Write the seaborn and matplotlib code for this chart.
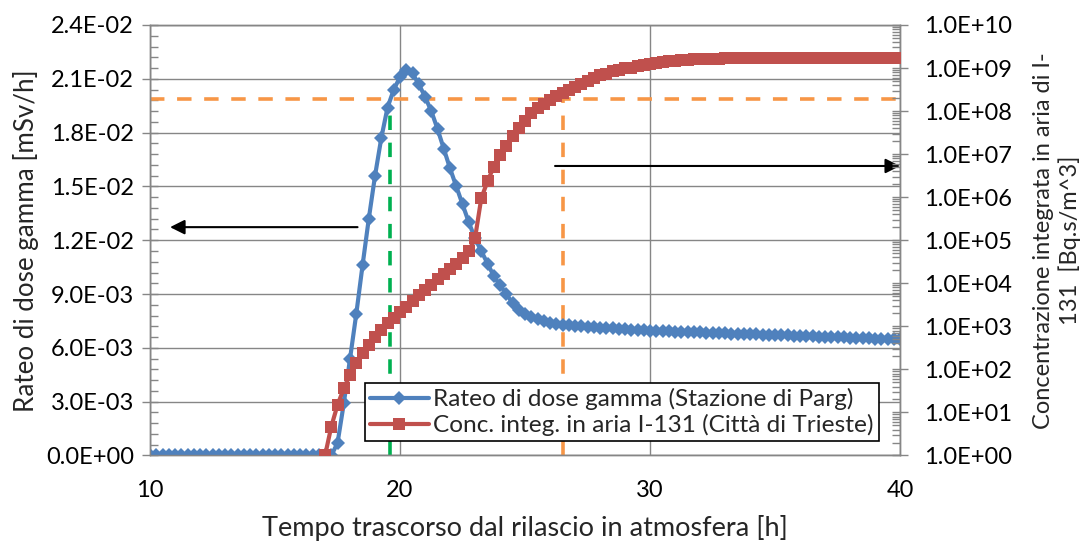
import numpy as np
import pandas as pd
import matplotlib
matplotlib.use('Agg')
import matplotlib.pyplot as plt
import matplotlib.ticker as mticker
import seaborn as sns

# tempo [h], passo 15 minuti
ore = np.arange(40, 161) / 4

# rateo di dose gamma, Stazione di Parg [mSv/h]
dose = [0.0] * 30 + [
    0.0007, 0.0029, 0.0054, 0.0079, 0.0106, 0.0132, 0.0156, 0.0177, 0.0194, 0.0204,
    0.0211, 0.0215, 0.0213, 0.0207, 0.0200, 0.0192, 0.0182, 0.0171, 0.0160, 0.0150,
    0.0140, 0.0130, 0.0121, 0.0114, 0.0107, 0.0100, 0.0095, 0.0090, 0.0085, 0.0081,
    0.0079, 0.0077, 0.0076, 0.0075, 0.0074, 0.00735,
    0.00730, 0.00727, 0.00724, 0.00721, 0.00718, 0.00715, 0.00712, 0.00710, 0.00708, 0.00706,
    0.00704, 0.00702, 0.00700, 0.00698, 0.00696,
    0.00695, 0.00694, 0.00692, 0.00691, 0.00690, 0.00689, 0.00687, 0.00686, 0.00685, 0.00684,
    0.00682, 0.00681, 0.00680, 0.00679, 0.00677, 0.00676, 0.00675, 0.00674, 0.00673, 0.00672,
    0.00671, 0.00670, 0.00668, 0.00667, 0.00666, 0.00665, 0.00663, 0.00662, 0.00661, 0.00660,
    0.00658, 0.00657, 0.00656, 0.00655, 0.00653, 0.00652, 0.00651, 0.00650, 0.00649, 0.00648]

# concentrazione integrata I-131, Citta di Trieste [Bq.s/m^3], da 17 h
ore_conc = ore[28:]
conc = [
    1.0, 4.7, 15, 36, 74, 138, 240, 372, 562, 832,
    1.20e3, 1.58e3, 2.14e3, 2.88e3, 3.89e3, 5.25e3, 7.08e3, 9.33e3, 1.23e4, 1.62e4,
    2.14e4, 2.88e4, 3.89e4, 5.62e4, 1.12e5, 9.5e5, 2.34e6, 5.13e6, 9.77e6, 1.51e7,
    2.63e7, 3.98e7, 5.89e7, 8.91e7, 1.15e8, 1.48e8, 1.82e8, 2.19e8, 2.57e8, 3.09e8,
    3.63e8, 4.37e8, 5.01e8, 5.89e8, 6.76e8, 7.41e8, 8.32e8, 9.12e8, 9.77e8, 1.02e9,
    1.10e9, 1.17e9, 1.26e9, 1.32e9, 1.38e9, 1.43e9, 1.48e9, 1.51e9, 1.55e9, 1.58e9,
    1.60e9, 1.62e9, 1.64e9, 1.66e9, 1.68e9, 1.70e9, 1.71e9, 1.72e9, 1.73e9, 1.74e9,
    1.74e9, 1.74e9, 1.74e9, 1.74e9, 1.74e9, 1.74e9, 1.74e9, 1.74e9, 1.74e9, 1.74e9,
    1.74e9, 1.75e9, 1.75e9, 1.75e9, 1.75e9, 1.75e9, 1.75e9, 1.75e9, 1.75e9, 1.75e9,
    1.75e9, 1.75e9, 1.75e9]

# linee di riferimento
soglia_conc = 1.9e8
t_soglia = 26.5
t_picco = 19.6
dose_verde = 0.0195

lbl_dose = 'Rateo di dose gamma (Stazione di Parg)'
lbl_conc = 'Conc. integ. in aria I-131 (Città di Trieste)'

df_dose = pd.DataFrame({'ore': ore, 'dose': dose})
df_conc = pd.DataFrame({'ore': ore_conc, 'conc': conc})

sns.set_style('white')
plt.rcParams['font.family'] = ['Lato', 'DejaVu Sans']
grigio = '#868686'
blu = '#4F81BD'
rosso = '#C0504D'
arancio = '#F79646'
verde = '#00B050'

fig, ax = plt.subplots(figsize=(10.81, 5.42), dpi=100)
fig.subplots_adjust(left=0.1388, right=0.8326, top=0.9539, bottom=0.1596)
ax2 = ax.twinx()

# linee tratteggiate (sotto le serie)
ax.plot([10, 40], [soglia_conc, soglia_conc], transform=ax2.transData,
        color=arancio, lw=2.6, ls=(0, (4, 3.5)), zorder=1)
ax.plot([t_soglia, t_soglia], [1, soglia_conc], transform=ax2.transData,
        color=arancio, lw=2.6, ls=(0, (4, 3.5)), zorder=1)
ax.plot([t_picco, t_picco], [0, dose_verde], color=verde, lw=2.6,
        ls=(0, (4, 3.5)), zorder=1)

sns.lineplot(data=df_dose, x='ore', y='dose', ax=ax, color=blu, marker='D',
             markersize=7, markeredgewidth=0, linewidth=3, estimator=None,
             label=lbl_dose, zorder=3)
sns.lineplot(data=df_conc, x='ore', y='conc', ax=ax2, color=rosso, marker='s',
             markersize=9, markeredgewidth=0, linewidth=3, estimator=None,
             label=lbl_conc, zorder=3)

ax.set_xlim(10, 40)
ax.set_ylim(0, 0.024)
ax2.set_yscale('log')
ax2.set_ylim(1, 1e10)

ax.xaxis.set_major_locator(mticker.MultipleLocator(10))
ax.xaxis.set_minor_locator(mticker.MultipleLocator(1))
ax.yaxis.set_major_locator(mticker.MultipleLocator(0.003))
ax.yaxis.set_minor_locator(mticker.MultipleLocator(0.0006))
ax.yaxis.set_major_formatter(mticker.FormatStrFormatter('%.1E'))
ax2.yaxis.set_major_locator(mticker.LogLocator(base=10, numticks=12))
ax2.yaxis.set_minor_locator(mticker.LogLocator(base=10, subs=np.arange(2, 10), numticks=12))
ax2.yaxis.set_major_formatter(mticker.FuncFormatter(lambda v, p: '%.1E' % v))
ax2.yaxis.set_minor_formatter(mticker.NullFormatter())

fs = 17
for a in (ax, ax2):
    a.tick_params(which='major', direction='inout', length=11, width=1,
                  color=grigio, labelsize=fs, labelcolor='black')
    a.tick_params(which='minor', direction='in', length=6, width=1, color=grigio)
    for s in a.spines.values():
        s.set_color(grigio)
        s.set_linewidth(1)
ax.tick_params(axis='x', pad=12)
ax.tick_params(axis='y', pad=6)
ax2.tick_params(axis='y', pad=12)

ax.grid(True, which='major', color=grigio, linewidth=1)
ax.set_axisbelow(True)

ax.set_xlabel('Tempo trascorso dal rilascio in atmosfera [h]', fontsize=19.5, labelpad=10)
ax.set_ylabel('Rateo di dose gamma [mSv/h]', fontsize=18.7, labelpad=5)
ax2.set_ylabel('Concentrazione integrata in aria di I-\n131  [Bq.s/m^3]',
               fontsize=17, labelpad=15, linespacing=1.2)

# frecce
ax.annotate('', xy=(10.8, 0.01273), xytext=(18.3, 0.01273),
            arrowprops=dict(arrowstyle='-|>', color='black', lw=1.5,
                            mutation_scale=22, shrinkA=0, shrinkB=0))
ax.annotate('', xy=(40, 0.01614), xytext=(26.2, 0.01614),
            arrowprops=dict(arrowstyle='-|>', color='black', lw=1.5,
                            mutation_scale=22, shrinkA=0, shrinkB=0))

h1, l1 = ax.get_legend_handles_labels()
h2, l2 = ax2.get_legend_handles_labels()
if ax.get_legend():
    ax.get_legend().remove()
if ax2.get_legend():
    ax2.get_legend().remove()
leg = fig.legend(h1 + h2, l1 + l2, loc='lower left', bbox_to_anchor=(0.3377, 0.1863),
                 fontsize=17.6, frameon=True, fancybox=False, framealpha=1,
                 edgecolor='black', handlelength=2.4, handletextpad=0.2,
                 borderpad=0.2, labelspacing=0.15, borderaxespad=0)
leg.get_frame().set_linewidth(1.2)

plt.savefig('out.png', dpi=100)
